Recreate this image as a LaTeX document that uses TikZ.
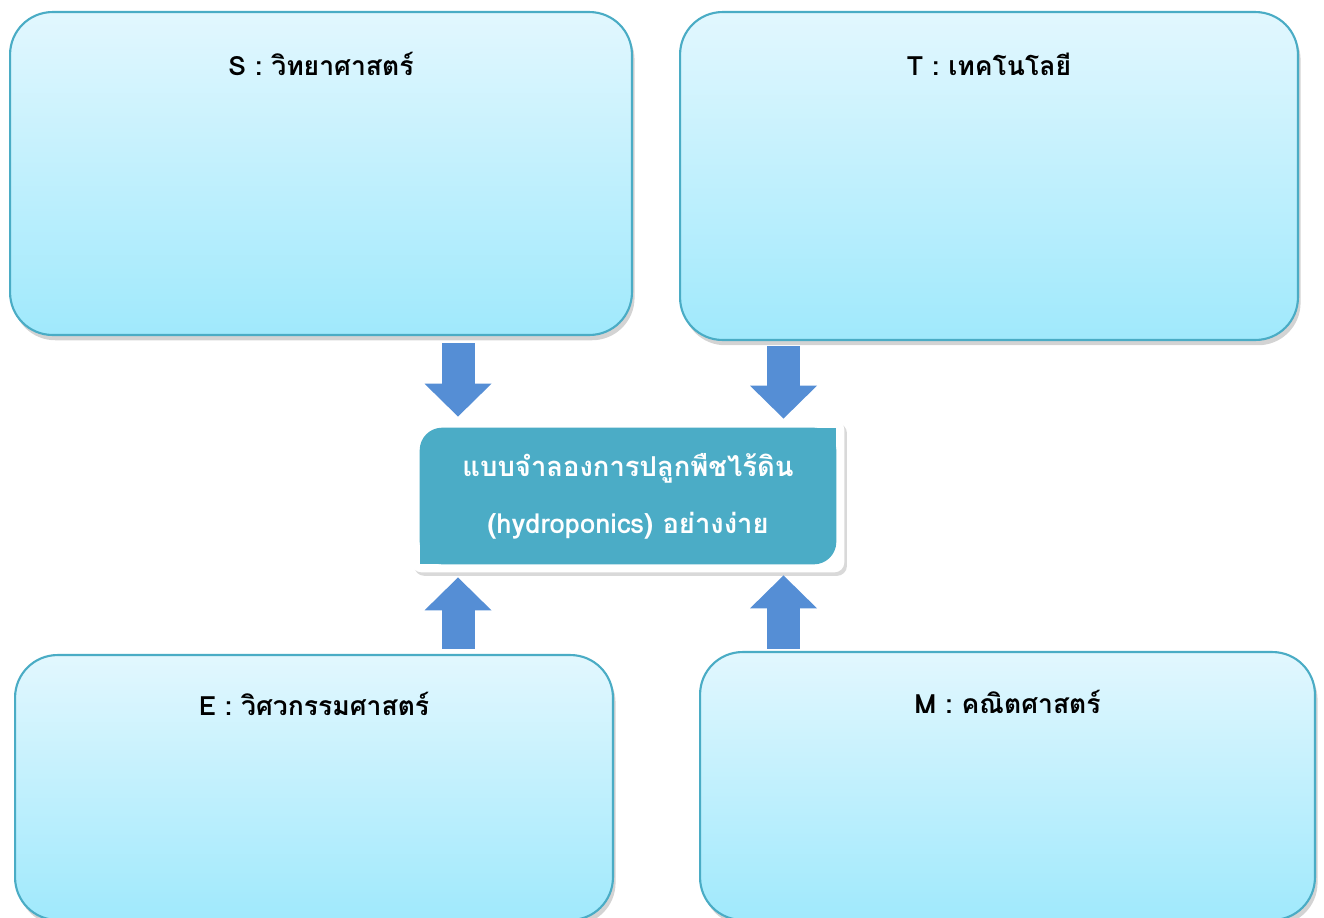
\documentclass[tikz,border=0pt]{standalone}
\usepackage{fontspec}
\usepackage{tikz}
\usetikzlibrary{
  arrows.meta, positioning, calc, shadows, backgrounds
}
\newfontfamily\thaifont[Script=Thai]{Loma}
\definecolor{boxtop}{HTML}{E2F7FE}
\definecolor{boxbottom}{HTML}{A0E9FC}
\definecolor{boxborder}{HTML}{4AACC5}
\definecolor{modelteal}{HTML}{4BACC6}
\definecolor{arrowblue}{HTML}{558ED5}
\tikzstyle{stembox} = [
  rectangle, draw=boxborder, line width=1.2pt,
  top color=boxtop, bottom color=boxbottom,
  rounded corners=0.85cm,
  drop shadow={shadow xshift=1.5pt, shadow yshift=-3pt, opacity=0.35}
]
\tikzstyle{boxlabel} = [
  font=\thaifont\bfseries\fontsize{15.1}{18}\selectfont, text=black
]
\tikzstyle{modeltext} = [
  text=white, align=center,
  font=\thaifont\bfseries\fontsize{15.6}{32.4}\selectfont,
  minimum width=8.32cm, minimum height=2.72cm
]
\tikzstyle{blockarrow} = [
  draw=arrowblue, line width=0.66cm,
  -{Triangle[length=0.66cm, width=1.3cm]}
]

\begin{document}
\begin{tikzpicture}[x=0.02cm, y=-0.02cm]
  \useasboundingbox (0,0) rectangle (1324,917);

  % STEM boxes
  \node[stembox, minimum width=12.44cm, minimum height=6.46cm] (sbox) at (321,173.5) {};
  \node[stembox, minimum width=12.36cm, minimum height=6.56cm] (tbox) at (989,176) {};
  \node[stembox, minimum width=11.96cm, minimum height=5.3cm] (ebox) at (314,787.5) {};
  \node[stembox, minimum width=12.3cm, minimum height=5.36cm] (mbox) at (1007.5,786) {};

  % Box titles
  \node[boxlabel] (slabel) at ($(sbox.north)+(0,53)$) {S : วิทยาศาสตร์};
  \node[boxlabel] (tlabel) at ($(tbox.north)+(0,53)$) {T : เทคโนโลยี};
  \node[boxlabel] (elabel) at ($(ebox.north)+(0,50)$) {E : วิศวกรรมศาสตร์};
  \node[boxlabel] (mlabel) at ($(mbox.north)+(0,51)$) {M : คณิตศาสตร์};

  % Model in the middle
  \node[modeltext] (model) at (628,496) {แบบจำลองการปลูกพืชไร้ดิน\\(hydroponics) อย่างง่าย};
  \begin{scope}[on background layer]
    \fill[white, rounded corners=0.2cm, drop shadow={shadow xshift=1.5pt, shadow yshift=-2pt, opacity=0.3}]
      ($(model.north west)+(-8,-8)$) rectangle ($(model.south east)+(8,8)$);
    \fill[modelteal, rounded corners=0.45cm] (model.north west) rectangle (model.south east);
    \fill[modelteal] (model.north east) rectangle ($(model.north east)+(-25,25)$);
    \fill[modelteal] (model.south west) rectangle ($(model.south west)+(25,-25)$);
  \end{scope}

  % Arrows into the model
  \coordinate (leftcol) at (458,0);
  \coordinate (rightcol) at (783.5,0);
  \draw[blockarrow, shorten <=0.14cm, shorten >=0.22cm] (sbox.south -| leftcol) -- (model.north -| leftcol);
  \draw[blockarrow, shorten <=0.1cm, shorten >=0.18cm] (tbox.south -| rightcol) -- (model.north -| rightcol);
  \draw[blockarrow, shorten <=0.1cm, shorten >=0.26cm] (ebox.north -| leftcol) -- (model.south -| leftcol);
  \draw[blockarrow, shorten <=0.04cm, shorten >=0.22cm] (mbox.north -| rightcol) -- (model.south -| rightcol);

\end{tikzpicture}
\end{document}
